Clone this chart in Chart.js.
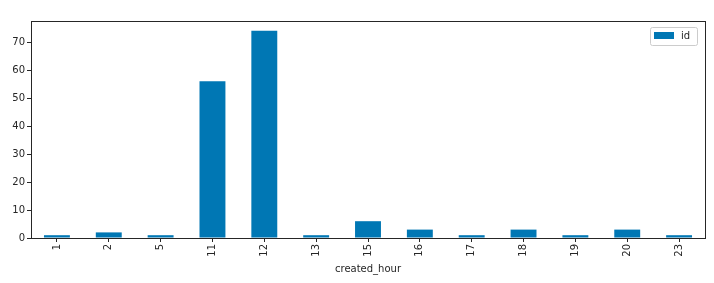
<!DOCTYPE html>
<html>
<head>
<meta charset="utf-8">
<script src="https://cdn.jsdelivr.net/npm/chart.js@4/dist/chart.umd.min.js"></script>
<style>
  html, body { margin: 0; padding: 0; background: #fff; }
  #wrap { width: 714px; height: 283px; }
</style>
</head>
<body>
<div id="wrap"><canvas id="hourChart" width="714" height="283"></canvas></div>
<script>
// data
const hours = ['1', '2', '5', '11', '12', '13', '15', '16', '17', '18', '19', '20', '23'];
const idCounts = [1, 2, 1, 56, 74, 1, 6, 3, 1, 3, 1, 3, 1];
const yTicks = [0, 10, 20, 30, 40, 50, 60, 70];
const seriesName = 'id';
const xTitle = 'created_hour';

const barColor = '#0077b4';
const inkColor = '#262626';

// box around the plot area + matplotlib style legend in the corner
const framePlugin = {
    id: 'frame',
    afterDraw(chart) {
        const ctx = chart.ctx;
        const a = chart.chartArea;
        ctx.save();
        ctx.strokeStyle = inkColor;
        ctx.lineWidth = 1;
        ctx.strokeRect(Math.round(a.left) + 0.5, Math.round(a.top) + 0.5,
            Math.round(a.right - a.left), Math.round(a.bottom - a.top));

        // legend
        const bx = a.right - 55, by = a.top + 6, bw = 47, bh = 18;
        ctx.strokeStyle = '#cccccc';
        ctx.fillStyle = 'rgba(255,255,255,0.8)';
        ctx.beginPath();
        ctx.roundRect(bx + 0.5, by + 0.5, bw, bh, 2);
        ctx.fill();
        ctx.stroke();
        ctx.fillStyle = barColor;
        ctx.fillRect(bx + 4, by + 5, 20, 7);
        ctx.fillStyle = inkColor;
        ctx.font = '10px "DejaVu Sans"';
        ctx.textBaseline = 'middle';
        ctx.fillText(chart.data.datasets[0].label, bx + 31, by + bh / 2 + 0.5);
        ctx.restore();
    }
};

const ctx = document.getElementById('hourChart').getContext('2d');
new Chart(ctx, {
    type: 'bar',
    data: {
        labels: hours,
        datasets: [{
            label: seriesName,
            data: idCounts,
            backgroundColor: barColor,
            borderWidth: 0,
            categoryPercentage: 1.0,
            barPercentage: 0.5
        }]
    },
    options: {
        responsive: false,
        animation: false,
        events: [],
        layout: {
            padding: { left: 0, top: 21, right: 9, bottom: 0 }
        },
        plugins: {
            legend: { display: false },
            tooltip: { enabled: false }
        },
        scales: {
            x: {
                offset: true,
                grid: {
                    display: true,
                    drawOnChartArea: false,
                    drawTicks: true,
                    tickLength: 4,
                    color: inkColor,
                    offset: false
                },
                border: { display: false },
                ticks: {
                    color: inkColor,
                    font: { family: 'DejaVu Sans', size: 10 },
                    minRotation: 90,
                    maxRotation: 90,
                    padding: 2,
                    autoSkip: false
                },
                title: {
                    display: true,
                    text: xTitle,
                    color: inkColor,
                    font: { family: 'DejaVu Sans', size: 10 },
                    padding: { top: 0, bottom: 8 }
                },
                afterFit(scale) { scale.height = 45; }
            },
            y: {
                min: 0,
                max: 77.5,
                grid: {
                    display: true,
                    drawOnChartArea: false,
                    drawTicks: true,
                    tickLength: 4,
                    color: inkColor
                },
                border: { display: false },
                ticks: {
                    stepSize: 10,
                    color: inkColor,
                    font: { family: 'DejaVu Sans', size: 10 },
                    padding: 2
                },
                afterBuildTicks(scale) {
                    scale.ticks = yTicks.map(v => ({ value: v }));
                },
                afterFit(scale) { scale.width = 31; }
            }
        }
    },
    plugins: [framePlugin]
});
</script>
</body>
</html>
